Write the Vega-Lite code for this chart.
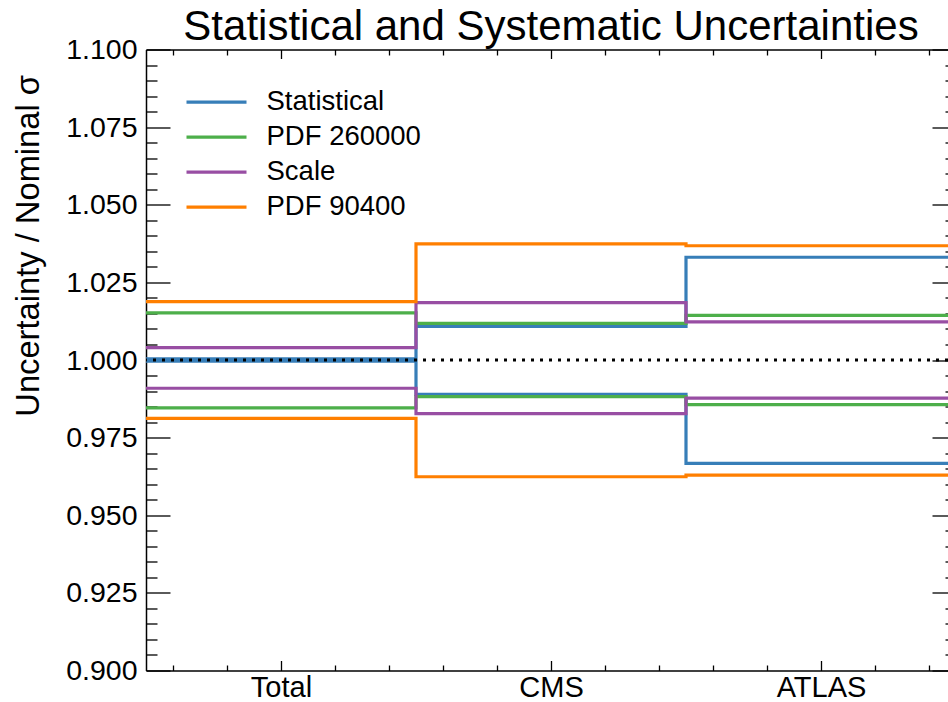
{
  "$schema": "https://vega.github.io/schema/vega-lite/v6.json",
  "width": 802,
  "height": 621,
  "autosize": {"type": "none"},
  "padding": {"left": 146, "top": 49.5, "right": 0, "bottom": 31.5},
  "background": "white",
  "config": {
    "view": {"stroke": null},
    "font": "Liberation Sans",
    "axis": {
      "grid": false,
      "domainColor": "black",
      "tickColor": "black",
      "labelColor": "black",
      "titleColor": "black",
      "labelFont": "Liberation Sans",
      "titleFont": "Liberation Sans",
      "domainWidth": 1.5,
      "tickWidth": 1.3,
      "labelFlush": false,
      "labelOverlap": false
    }
  },
  "title": {
    "text": "Statistical and Systematic Uncertainties",
    "fontSize": 42,
    "font": "Liberation Sans",
    "fontWeight": "normal",
    "color": "black",
    "anchor": "middle",
    "baseline": "alphabetic",
    "offset": 0,
    "dy": 46.5,
    "dx": 4
  },
  "datasets": {
    "unc": [
      {"series": "Statistical", "bound": "up", "edge": 0, "value": 1.0004},
      {"series": "Statistical", "bound": "up", "edge": 1, "value": 1.0108},
      {"series": "Statistical", "bound": "up", "edge": 2, "value": 1.0331},
      {"series": "Statistical", "bound": "up", "edge": 3, "value": 1.0331},
      {"series": "Statistical", "bound": "down", "edge": 0, "value": 0.9996},
      {"series": "Statistical", "bound": "down", "edge": 1, "value": 0.9889},
      {"series": "Statistical", "bound": "down", "edge": 2, "value": 0.9667},
      {"series": "Statistical", "bound": "down", "edge": 3, "value": 0.9667},
      {"series": "PDF 260000", "bound": "up", "edge": 0, "value": 1.0152},
      {"series": "PDF 260000", "bound": "up", "edge": 1, "value": 1.0118},
      {"series": "PDF 260000", "bound": "up", "edge": 2, "value": 1.0144},
      {"series": "PDF 260000", "bound": "up", "edge": 3, "value": 1.0144},
      {"series": "PDF 260000", "bound": "down", "edge": 0, "value": 0.9846},
      {"series": "PDF 260000", "bound": "down", "edge": 1, "value": 0.9882},
      {"series": "PDF 260000", "bound": "down", "edge": 2, "value": 0.9856},
      {"series": "PDF 260000", "bound": "down", "edge": 3, "value": 0.9856},
      {"series": "Scale", "bound": "up", "edge": 0, "value": 1.0040},
      {"series": "Scale", "bound": "up", "edge": 1, "value": 1.0185},
      {"series": "Scale", "bound": "up", "edge": 2, "value": 1.0123},
      {"series": "Scale", "bound": "up", "edge": 3, "value": 1.0123},
      {"series": "Scale", "bound": "down", "edge": 0, "value": 0.9909},
      {"series": "Scale", "bound": "down", "edge": 1, "value": 0.9827},
      {"series": "Scale", "bound": "down", "edge": 2, "value": 0.9877},
      {"series": "Scale", "bound": "down", "edge": 3, "value": 0.9877},
      {"series": "PDF 90400", "bound": "up", "edge": 0, "value": 1.0188},
      {"series": "PDF 90400", "bound": "up", "edge": 1, "value": 1.0374},
      {"series": "PDF 90400", "bound": "up", "edge": 2, "value": 1.0368},
      {"series": "PDF 90400", "bound": "up", "edge": 3, "value": 1.0368},
      {"series": "PDF 90400", "bound": "down", "edge": 0, "value": 0.9812},
      {"series": "PDF 90400", "bound": "down", "edge": 1, "value": 0.9624},
      {"series": "PDF 90400", "bound": "down", "edge": 2, "value": 0.9629},
      {"series": "PDF 90400", "bound": "down", "edge": 3, "value": 0.9629}
    ]
  },
  "layer": [
    {
      "data": {"name": "unc"},
      "mark": {"type": "line", "interpolate": "step-after", "strokeWidth": 3.2, "clip": true},
      "encoding": {
        "x": {
          "field": "edge",
          "type": "quantitative",
          "scale": {"domain": [0, 2.9704], "nice": false, "zero": false},
          "axis": {
            "orient": "bottom",
            "values": [0.5, 1.5, 2.5],
            "labelExpr": "datum.value < 1 ? 'Total' : datum.value < 2 ? 'CMS' : 'ATLAS'",
            "tickSize": -10,
            "labelFontSize": 29,
            "labelPadding": 12.5,
            "title": null,
            "domain": true
          }
        },
        "y": {
          "field": "value",
          "type": "quantitative",
          "scale": {"domain": [0.9, 1.1], "nice": false, "zero": false},
          "axis": {
            "orient": "left",
            "values": [0.9, 0.925, 0.95, 0.975, 1.0, 1.025, 1.05, 1.075, 1.1],
            "format": ".3f",
            "tickSize": -24,
            "labelFontSize": 28.5,
            "labelPadding": 33,
            "domain": true,
            "title": "Uncertainty / Nominal σ",
            "titleFontSize": 32.7,
            "titleFontWeight": "normal",
            "titleAnchor": "end",
            "titleAngle": -90,
            "titleAlign": "right",
            "titleBaseline": "middle",
            "titleX": -118,
            "titleY": 25
          }
        },
        "color": {
          "field": "series",
          "type": "nominal",
          "scale": {
            "domain": ["Statistical", "PDF 260000", "Scale", "PDF 90400"],
            "range": ["#377eb8", "#4daf4a", "#984ea3", "#ff7f00"]
          },
          "legend": {
            "title": null,
            "orient": "none",
            "legendX": 38.5,
            "legendY": 35.5,
            "symbolType": "stroke",
            "symbolSize": 3600,
            "symbolStrokeWidth": 3.2,
            "labelFontSize": 27.5,
            "labelFont": "Liberation Sans",
            "labelColor": "black",
            "labelOffset": 18,
            "clipHeight": 34.4,
            "rowPadding": 0,
            "padding": 0,
            "labelLimit": 400
          }
        },
        "detail": {"field": "bound"}
      }
    },
    {
      "data": {"values": [{}]},
      "mark": {"type": "rule", "strokeDash": [3, 6], "strokeWidth": 3, "color": "black"},
      "encoding": {
        "y": {
          "datum": 1,
          "type": "quantitative",
          "axis": {
            "orient": "left",
            "values": [0.905, 0.91, 0.915, 0.92, 0.93, 0.935, 0.94, 0.945, 0.955, 0.96, 0.965, 0.97, 0.98, 0.985, 0.99, 0.995, 1.005, 1.01, 1.015, 1.02, 1.03, 1.035, 1.04, 1.045, 1.055, 1.06, 1.065, 1.07, 1.08, 1.085, 1.09, 1.095],
            "labels": false,
            "tickSize": -11,
            "domain": false,
            "title": null
          }
        }
      }
    },
    {
      "data": {"values": [{}]},
      "mark": {"type": "point", "opacity": 0},
      "encoding": {
        "x": {
          "datum": 0,
          "type": "quantitative",
          "axis": {
            "orient": "bottom",
            "values": [0.1, 0.3, 0.7, 0.9, 1.1, 1.3, 1.7, 1.9, 2.1, 2.3, 2.7, 2.9],
            "labels": false,
            "tickSize": -5.5,
            "domain": false,
            "title": null
          }
        },
        "y": {
          "datum": 1,
          "type": "quantitative",
          "axis": {
            "orient": "right",
            "values": [0.9, 0.925, 0.95, 0.975, 1.0, 1.025, 1.05, 1.075, 1.1],
            "labels": false,
            "tickSize": -16,
            "domain": false,
            "title": null
          }
        }
      }
    },
    {
      "data": {"values": [{}]},
      "mark": {"type": "point", "opacity": 0},
      "encoding": {
        "x": {
          "datum": 0,
          "type": "quantitative",
          "axis": {
            "orient": "top",
            "values": [0.5, 1.5, 2.5],
            "labels": false,
            "tickSize": -9,
            "domain": true,
            "title": null
          }
        },
        "y": {
          "datum": 1,
          "type": "quantitative",
          "axis": {
            "orient": "right",
            "values": [0.905, 0.91, 0.915, 0.92, 0.93, 0.935, 0.94, 0.945, 0.955, 0.96, 0.965, 0.97, 0.98, 0.985, 0.99, 0.995, 1.005, 1.01, 1.015, 1.02, 1.03, 1.035, 1.04, 1.045, 1.055, 1.06, 1.065, 1.07, 1.08, 1.085, 1.09, 1.095],
            "labels": false,
            "tickSize": -3,
            "domain": false,
            "title": null
          }
        }
      }
    },
    {
      "data": {"values": [{}]},
      "mark": {"type": "point", "opacity": 0},
      "encoding": {
        "x": {
          "datum": 0,
          "type": "quantitative",
          "axis": {
            "orient": "top",
            "values": [0.1, 0.3, 0.7, 0.9, 1.1, 1.3, 1.7, 1.9, 2.1, 2.3, 2.7, 2.9],
            "labels": false,
            "tickSize": -5.5,
            "domain": false,
            "title": null
          }
        }
      }
    }
  ],
  "resolve": {"axis": {"x": "independent", "y": "independent"}}
}
